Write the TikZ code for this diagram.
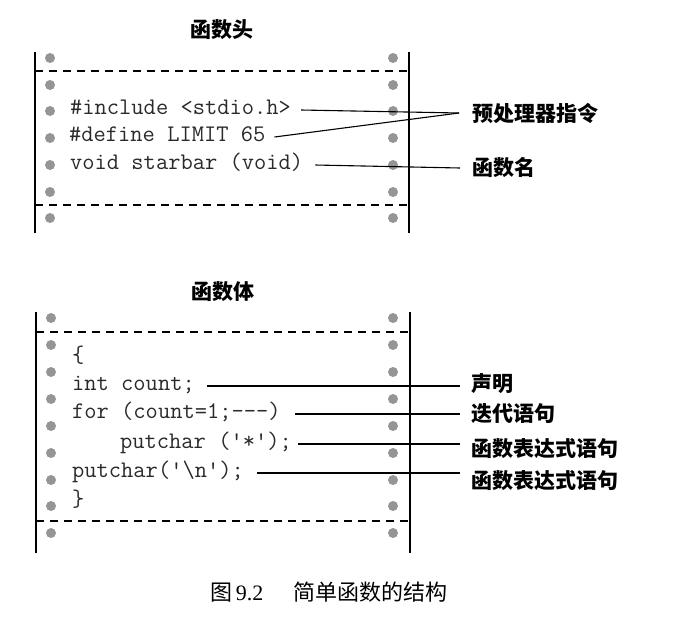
\documentclass[tikz,border=0pt]{standalone}
\usepackage{fontspec}
\setmainfont{Liberation Serif}
\newfontfamily\cjk{Noto Sans CJK SC}
\definecolor{dotgray}{HTML}{959595}
\definecolor{codegray}{HTML}{2A2A2A}
\tikzset{
  code/.style={anchor=west, inner xsep=10pt, inner ysep=0pt, text height=8pt, text depth=0pt,
    font=\ttfamily\fontsize{23.8}{25}\selectfont, text=codegray},
  lbl/.style={anchor=west, inner xsep=0pt, inner ysep=0pt,
    font=\cjk\bfseries\fontsize{21}{24}\selectfont},
  ttl/.style={inner sep=0pt, font=\cjk\bfseries\fontsize{21}{24}\selectfont},
  conn/.style={draw=black, line width=1.1pt},
  rail/.style={draw=black, line width=1.4pt},
  dashline/.style={draw=black, line width=1.2pt, dash pattern=on 7.5pt off 6.5pt},
  hole/.style={circle, fill=dotgray, inner sep=0pt, minimum size=10pt},
}
\begin{document}
\begin{tikzpicture}[x=1pt,y=-1pt]
\useasboundingbox (0,0) rectangle (674,630);
% ---------- top box ----------
\node[ttl] (t1) at (222,30) {函数头};
\coordinate (tl1) at (35,52); \coordinate (tl2) at (35,233);
\coordinate (tr1) at (409,52); \coordinate (tr2) at (409,233);
\draw[rail] (tl1) -- (tl2);
\draw[rail] (tr1) -- (tr2);
\coordinate (td1a) at (35,71); \coordinate (td1b) at (409,71);
\coordinate (td2a) at (35,205); \coordinate (td2b) at (409,205);
\draw[dashline] (td1a) -- (td1b);
\draw[dashline] (td2a) -- (td2b);
\foreach \i/\y in {1/58,2/85,3/111,4/138,5/165,6/192,7/218}{
  \node[hole] (tlh\i) at (50,\y) {};
  \node[hole] (trh\i) at (393,\y) {};
}
\node[code] (inc) at (60,110) {\#include <stdio.h>};
\node[code, inner xsep=9pt] (def) at (60,137) {\#define LIMIT 65};
\node[code, inner xsep=12pt] (sb) at (58,165) {void starbar (void)};
\coordinate (pp) at (459,113);
\node[lbl] (lpp) at (472,113) {预处理器指令};
\node[lbl] (lfn) at (472,168) {函数名};
\draw[conn] (inc.east) -- (pp);
\draw[conn] (def.east) -- (pp);
\draw[conn] (sb.east) -- ([xshift=-12pt]lfn.west);
% ---------- bottom box ----------
\node[ttl] (t2) at (223,292) {函数体};
\coordinate (bl1) at (36,312); \coordinate (bl2) at (36,553);
\coordinate (br1) at (410,312); \coordinate (br2) at (410,553);
\draw[rail] (bl1) -- (bl2);
\draw[rail] (br1) -- (br2);
\coordinate (bd1a) at (36,332); \coordinate (bd1b) at (410,332);
\coordinate (bd2a) at (36,521); \coordinate (bd2b) at (410,521);
\draw[dashline] (bd1a) -- (bd1b);
\draw[dashline] (bd2a) -- (bd2b);
\foreach \i/\y in {1/318,2/345,3/372,4/399,5/426,6/453,7/480,8/506,9/533}{
  \node[hole] (blh\i) at (51,\y) {};
  \node[hole] (brh\i) at (393,\y) {};
}
\node[code] (ob) at (62,358) {\{};
\node[code, inner xsep=12pt] (ic) at (60,386) {int count;};
\node[code, inner xsep=14pt] (fr) at (58,414) {for (count=1;---)};
\node[code, inner xsep=6pt] (pc1) at (114,444) {putchar ('*');};
\node[code, inner xsep=13pt] (pc2) at (59,473) {putchar('\textbackslash n');};
\node[code] (cb) at (62,502) {\}};
\node[lbl] (l1) at (471,384) {声明};
\node[lbl] (l2) at (471,414) {迭代语句};
\node[lbl] (l3) at (471,449) {函数表达式语句};
\node[lbl] (l4) at (471,481) {函数表达式语句};
\coordinate (e1) at (460,386);
\coordinate (e2) at (460,414);
\coordinate (e3) at (460,444);
\coordinate (e4) at (460,473);
\draw[conn] (ic.east) -- (e1);
\draw[conn] (fr.east) -- (e2);
\draw[conn] (pc1.east) -- (e3);
\draw[conn] (pc2.east) -- (e4);
% ---------- caption ----------
\node[anchor=west, inner sep=0pt, font=\fontsize{22}{24}\selectfont] (cap) at (210,592)
  {{\cjk 图}\,9.2\hspace{30pt}{\cjk 简单函数的结构}};
\end{tikzpicture}
\end{document}
